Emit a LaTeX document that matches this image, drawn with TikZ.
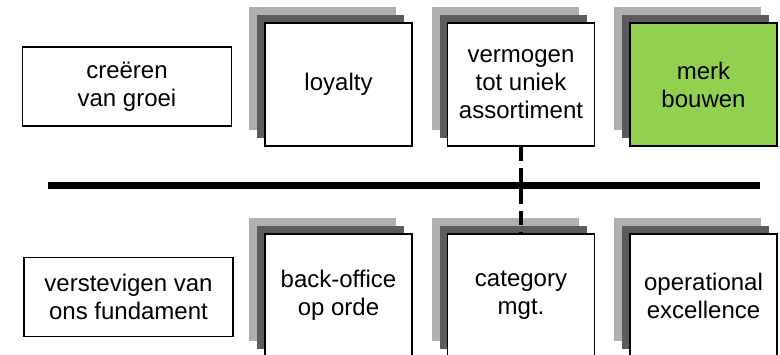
\documentclass[tikz,border=0pt]{standalone}
\usepackage{fontspec}
\setmainfont{Liberation Sans}
\usepackage{xcolor}
\usepackage{tikz}
\usetikzlibrary{shadows}
\definecolor{merkgreen}{RGB}{146,208,80}
\definecolor{shadelight}{RGB}{176,176,176}
\definecolor{shadedark}{RGB}{92,92,92}
\tikzstyle{block} = [draw, line width=1.1pt, fill=white, align=center, font=\fontsize{18pt}{21pt}\selectfont]
\tikzstyle{pillar} = [block, minimum width=110.25pt, minimum height=92.25pt,
    general shadow={shadow xshift=-12pt, shadow yshift=12pt, fill=shadelight},
    general shadow={shadow xshift=-6pt, shadow yshift=6pt, fill=shadedark}]
\tikzstyle{theme} = [block, minimum width=156.5pt, minimum height=59pt]

\begin{document}
\begin{tikzpicture}[x=0.75pt, y=-0.75pt]
    % Canvas
    \path[use as bounding box, clip] (0,0) rectangle (780,354);

    % Row labels
    \node[theme] (groei) at (127,86.5) {creëren\\van groei};
    \node[theme] (fundament) at (128.5,297) {verstevigen van\\ons fundament};

    % Top row
    \node[pillar] (loyalty) at (338.5,84.5) {loyalty};
    \node[pillar] (assortiment) at (521,84.5) {vermogen\\tot uniek\\assortiment};
    \node[pillar, fill=merkgreen] (merk) at (703.5,84.5) {merk\\bouwen};

    % Bottom row
    \node[pillar] (backoffice) at (338.5,295.5) {back-office\\op orde};
    \node[pillar] (category) at (521,295.5) {category\\mgt.};
    \node[pillar] (excellence) at (703.5,295.5) {operational\\excellence};

    % Divider
    \coordinate (divleft) at (48,185);
    \coordinate (divright) at (760,185);
    \draw[line width=5.25pt] (divleft) -- (divright);

    % Link between rows
    \draw[line width=3pt, dash pattern=on 11pt off 5pt] (assortiment.south) -- (category.north);
\end{tikzpicture}
\end{document}
